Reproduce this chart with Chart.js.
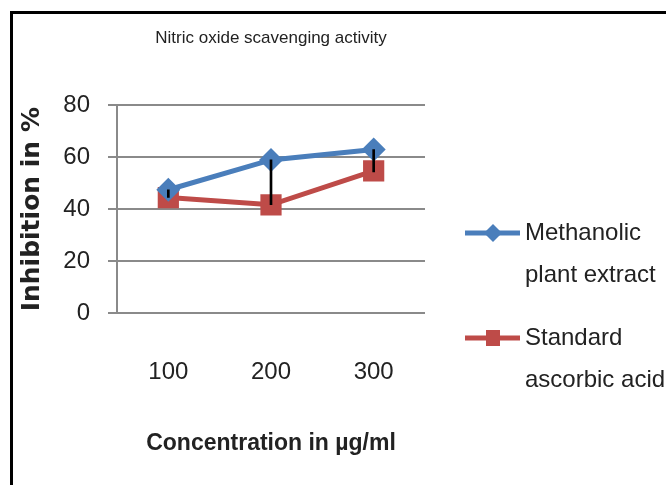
<!DOCTYPE html>
<html>
<head>
<meta charset="utf-8">
<script src="https://cdn.jsdelivr.net/npm/chart.js@4.4.1/dist/chart.umd.min.js"></script>
<style>
  body { margin: 0; overflow: hidden; background: #fff; }
  #caja { position: relative; width: 666px; height: 485px; }
  #marco { position: absolute; left: 10px; top: 11px; right: 0; bottom: 0;
           border-left: 3px solid #000; border-top: 3px solid #000; pointer-events: none; }
</style>
</head>
<body>
<div id="caja">
  <canvas id="grafico"></canvas>
  <div id="marco"></div>
</div>
<script>
// datos
const concentraciones = ["100", "200", "300"];
const extractoMetanolico = [47.5, 59, 63];
const acidoAscorbico = [44.5, 41.7, 54.8];
const barraBaja = [44.5, 41.7, 54.4]; // barras de error (extremo inferior)
const barraAlta = [47.5, 59, 63];     // barras de error (extremo superior)
const nombresSeries = ["Methanolic plant extract", "Standard ascorbic acid"];
const lineasLeyenda = [["Methanolic", "plant extract"], ["Standard", "ascorbic acid"]];
const ticksY = [0, 20, 40, 60, 80];

const azul = "#4a7ebb";
const rojo = "#be4b48";
const gris = "#8a8a8a";
const fuente = "'Liberation Sans', Arial, sans-serif";

// leyenda a la derecha con texto en dos lineas
const leyendaPropia = {
  id: "leyendaPropia",
  afterDraw(chart) {
    const ctx = chart.ctx;
    const filas = [
      { y: 233, color: azul, forma: "rombo" },
      { y: 338, color: rojo, forma: "cuadrado" },
    ];
    ctx.save();
    filas.forEach((f, i) => {
      ctx.strokeStyle = f.color;
      ctx.lineWidth = 5;
      ctx.beginPath();
      ctx.moveTo(465, f.y);
      ctx.lineTo(520, f.y);
      ctx.stroke();
      ctx.fillStyle = f.color;
      ctx.beginPath();
      if (f.forma === "rombo") {
        ctx.moveTo(493, f.y - 9);
        ctx.lineTo(502, f.y);
        ctx.lineTo(493, f.y + 9);
        ctx.lineTo(484, f.y);
      } else {
        ctx.rect(486, f.y - 8, 14, 16);
      }
      ctx.fill();
      ctx.fillStyle = "#222";
      ctx.font = "24px " + fuente;
      ctx.textBaseline = "middle";
      ctx.fillText(lineasLeyenda[i][0], 525, f.y);
      ctx.fillText(lineasLeyenda[i][1], 525, f.y + 42);
    });
    ctx.restore();
  },
};

const ctx = document.getElementById("grafico").getContext("2d");
const miGrafico = new Chart(ctx, {
  data: {
    labels: concentraciones,
    datasets: [
      {
        type: "bar",
        label: "error",
        data: barraBaja.map((b, i) => [b, barraAlta[i]]),
        backgroundColor: "#000",
        barThickness: 2,
        order: -1,
      },
      {
        type: "line",
        label: nombresSeries[0],
        data: extractoMetanolico,
        borderColor: azul,
        backgroundColor: azul,
        borderWidth: 5,
        pointStyle: "rectRot",
        pointRadius: 12,
        pointBorderWidth: 0,
        tension: 0,
      },
      {
        type: "line",
        label: nombresSeries[1],
        data: acidoAscorbico,
        borderColor: rojo,
        backgroundColor: rojo,
        borderWidth: 5,
        pointStyle: "rect",
        pointRadius: 15,
        pointBorderWidth: 0,
        tension: 0,
      },
    ],
  },
  options: {
    responsive: true,
    maintainAspectRatio: false,
    animation: false,
    layout: { padding: { left: 14, right: 241, top: 0, bottom: 0 } },
    plugins: {
      legend: { display: false },
      tooltip: { enabled: false },
      title: {
        display: true,
        text: "Nitric oxide scavenging activity",
        fullSize: false,
        color: "#222",
        font: { family: fuente, size: 17, weight: "normal" },
        padding: { top: 28, bottom: 57 },
      },
    },
    scales: {
      x: {
        type: "category",
        offset: true,
        grid: { display: false, drawTicks: false },
        border: { display: false },
        ticks: { color: "#222", font: { family: fuente, size: 24 }, padding: 45 },
        title: {
          display: true,
          text: "Concentration in µg/ml",
          color: "#222",
          font: { family: fuente, size: 23, weight: "bold" },
          padding: { top: 40, bottom: 28 },
        },
        afterFit(scale) { scale.height = 172; },
      },
      y: {
        min: 0,
        max: 80,
        afterBuildTicks(scale) { scale.ticks = ticksY.map((v) => ({ value: v })); },
        grid: { color: gris, lineWidth: 2, tickLength: 9 },
        border: { color: gris, width: 2 },
        ticks: { color: "#222", font: { family: fuente, size: 24 }, padding: 18 },
        title: {
          display: true,
          text: "Inhibition in %",
          color: "#222",
          font: { family: "'DejaVu Sans', sans-serif", size: 25, weight: "bold" },
          padding: { top: 3, bottom: 0 },
        },
        afterFit(scale) { scale.width = 103; },
      },
    },
  },
  plugins: [leyendaPropia],
});
</script>
</body>
</html>
